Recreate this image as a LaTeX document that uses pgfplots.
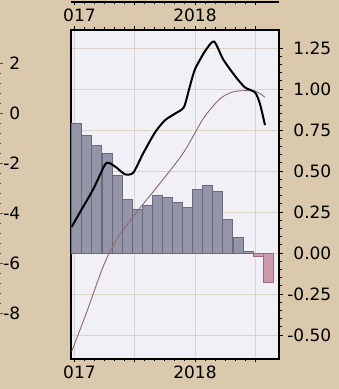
\documentclass[border=0pt]{standalone}
\usepackage{pgfplots}
\pgfplotsset{compat=1.18}
\usepackage{fontspec}
\setmainfont{DejaVu Sans}
\definecolor{tanbg}{HTML}{DAC9AD}
\definecolor{plotbg}{HTML}{F0F0F6}
\definecolor{gridc}{HTML}{D9D3C9}
\definecolor{barfill}{HTML}{9595A9}
\definecolor{baredge}{HTML}{6A6A7C}
\definecolor{pinkfill}{HTML}{CC9AAA}
\definecolor{pinkedge}{HTML}{A06A7C}
\definecolor{brownline}{HTML}{8A6A6A}
\begin{document}
\begin{tikzpicture}[x=1pt,y=1pt]
\fill[tanbg] (0,0) rectangle (339,389);
\useasboundingbox (0,0) rectangle (339,389);
% left remnant axis (neighbour panel)
\begin{axis}[
  at={(-20pt,0pt)}, anchor=south west,
  width=20pt, height=369pt, scale only axis,
  xmin=0, xmax=1, ymin=-11.04, ymax=3.72,
  axis x line=none,
  axis y line*=right,
  axis line style={draw=none},
  ytick={-8,-6,-4,-2,0,2},
  yticklabels={-8,-6,-4,-2,0,2},
  minor y tick num=4,
  tick align=outside,
  major tick length=3.5pt, minor tick length=1.5pt,
  tick style={black!70, line width=0.8pt},
  yticklabel style={anchor=east, inner sep=0pt, xshift=17pt, font=\fontsize{17}{20}\selectfont},
]
\addplot[draw=none] coordinates {(0,0)};
\end{axis}
% top remnant axis (panel above)
\begin{axis}[
  at={(71pt,387pt)}, anchor=south west,
  width=208pt, height=60pt, scale only axis,
  xmin=-0.3, xmax=20.34, ymin=0, ymax=1,
  axis y line=none,
  axis x line*=bottom,
  axis line style={black, line width=1.6pt},
  xtick={0,6,12,18},
  xticklabels={\phantom{2}017,,2018,},
  minor x tick num=5,
  tick align=outside,
  major tick length=3.5pt, minor tick length=2.5pt,
  tick style={black, line width=0.9pt},
  xticklabel style={inner sep=0pt, yshift=-3pt, font=\fontsize{17}{20}\selectfont},
]
\addplot[draw=none] coordinates {(0,0.5)};
\end{axis}
% main axis
\begin{axis}[
  at={(71pt,30pt)}, anchor=south west,
  width=208pt, height=329pt, scale only axis,
  xmin=-0.3, xmax=20.34, ymin=-0.646, ymax=1.36,
  axis background/.style={fill=plotbg},
  axis line style={black, line width=1.3pt},
  xtick={0,6,12,18},
  xticklabels={\phantom{2}017,,2018,},
  minor x tick num=5,
  xtick pos=both, xticklabel pos=bottom,
  ytick={-0.5,-0.25,0,0.25,0.5,0.75,1,1.25},
  yticklabels={-0.50,-0.25,0.00,0.25,0.50,0.75,1.00,1.25},
  minor y tick num=4,
  ytick pos=right, yticklabel pos=right,
  tick align=outside,
  major tick length=3.5pt, minor tick length=2.5pt,
  tick style={black, line width=0.9pt},
  grid=major,
  major grid style={gridc, line width=0.9pt},
  xticklabel style={inner sep=0pt, yshift=-3pt, font=\fontsize{17}{20}\selectfont},
  yticklabel style={anchor=east, inner sep=0pt, xshift=49pt, font=\fontsize{17}{20}\selectfont},
  clip=true,
]
\addplot[ybar, bar width=0.99, bar shift=0pt, fill=barfill, draw=baredge, line width=0.9pt] coordinates {
(0.27,0.79) (1.27,0.716) (2.27,0.655) (3.27,0.607) (4.27,0.473) (5.27,0.326)
(6.27,0.265) (7.27,0.29) (8.27,0.352) (9.27,0.338) (10.27,0.308) (11.27,0.277)
(12.27,0.387) (13.27,0.413) (14.27,0.375) (15.27,0.204) (16.27,0.095) (17.27,0.012)
};
\addplot[ybar, bar width=0.99, bar shift=0pt, fill=pinkfill, draw=pinkedge, line width=0.9pt] coordinates {
(18.27,-0.018) (19.27,-0.178)
};
\addplot[brownline, line width=0.9pt, smooth] coordinates {
(-0.23,-0.60) (1.26,-0.36) (2.91,-0.08) (4.24,0.085) (6.22,0.25) (8.2,0.40)
(10.84,0.61) (12.83,0.82) (14.48,0.94) (15.8,0.983) (17.13,0.99) (18.13,0.983) (18.95,0.95)
};
\addplot[black, line width=2pt, smooth, tension=0.4] coordinates {
(-0.23,0.16) (0.60,0.25) (1.91,0.39) (3.08,0.54) (3.57,0.547) (4.24,0.52) (5.06,0.48)
(5.88,0.49) (6.88,0.61) (8.04,0.736) (9.03,0.81) (10.02,0.85) (10.91,0.89) (11.51,1.02)
(12.0,1.12) (12.99,1.23) (13.89,1.29) (14.81,1.18) (15.97,1.08) (16.96,1.01) (17.96,0.98)
(18.45,0.91) (18.95,0.78)
};
\end{axis}
\end{tikzpicture}
\end{document}
